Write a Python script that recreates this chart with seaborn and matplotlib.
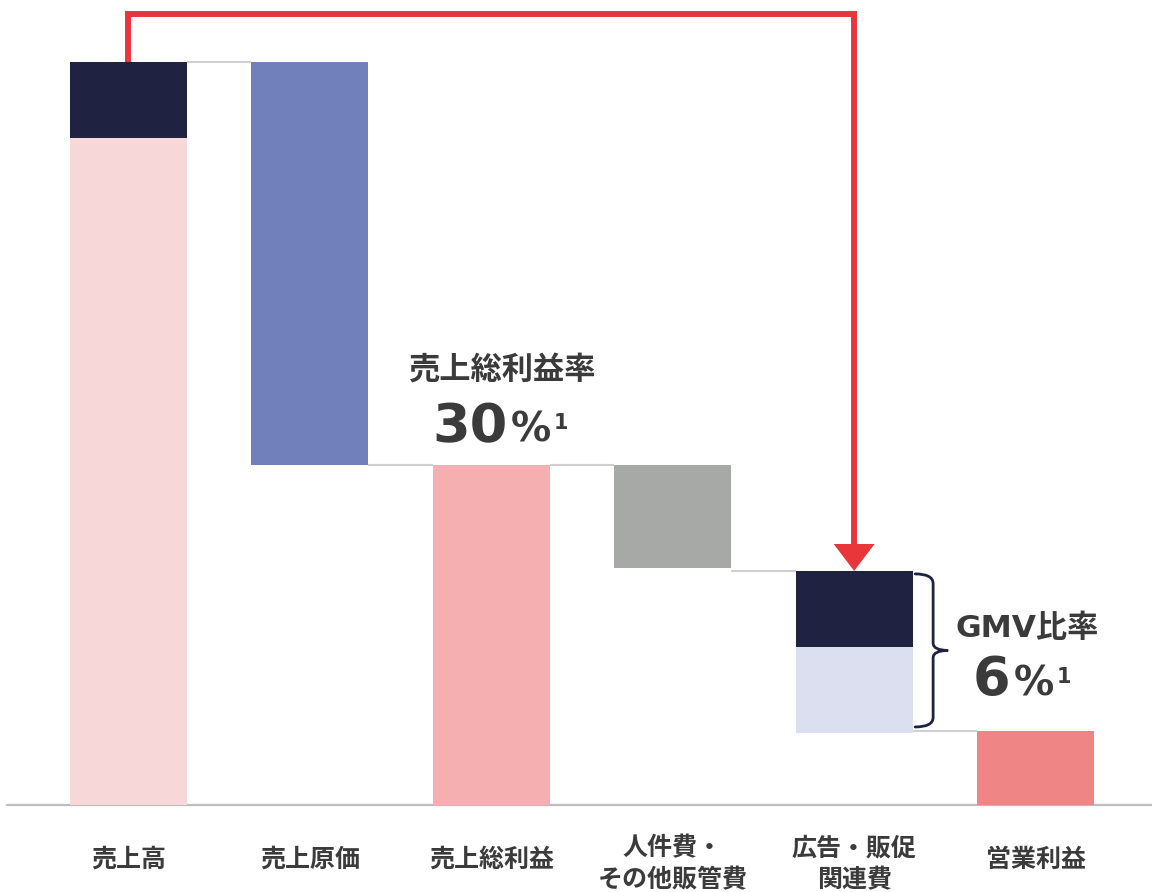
import matplotlib
matplotlib.use("Agg")
import matplotlib.pyplot as plt
import seaborn as sns
import pandas as pd
from matplotlib.path import Path
from matplotlib.patches import FancyArrowPatch, PathPatch

# ---------------- data ----------------
categories = ["売上高", "売上原価", "売上総利益", "人件費・\nその他販管費", "広告・販促\n関連費", "営業利益"]

seg_category = ["売上高", "売上高", "売上原価", "売上総利益", "人件費・\nその他販管費",
                "広告・販促\n関連費", "広告・販促\n関連費", "営業利益"]
seg_bottom = [0.0, 89.8, 45.8, 0.0, 31.9, 21.3, 9.7, 0.0]
seg_top = [89.8, 100.0, 100.0, 45.8, 45.8, 31.5, 21.3, 10.0]
seg_color = ["#F8D7D8", "#1F2341", "#717FBB", "#F5AFB0", "#A7A9A6",
             "#1F2341", "#DCDFF0", "#F08585"]

gross_margin_label = "売上総利益率"
gross_margin_value = "30"
gmv_label = "GMV比率"
gmv_value = "6"
footnote_mark = "1"

# ---------------- style ----------------
sns.set_theme(style="white")
plt.rcParams["font.family"] = ["Noto Sans CJK JP", "DejaVu Sans"]
TEXT = "#3B3B3B"
NUM_FONT = ["DejaVu Sans", "Noto Sans CJK JP"]

fig = plt.figure(figsize=(11.52, 8.92), dpi=100)
ax = fig.add_axes([0, 0, 1, 1])

df = pd.DataFrame({"cat": seg_category, "bottom": seg_bottom, "top": seg_top, "color": seg_color})
df["height"] = df["top"] - df["bottom"]

BAR_W = 0.645
for _, r in df.iterrows():
    sns.barplot(x=[r["cat"]], y=[r["height"]], order=categories, bottom=r["bottom"],
                color=r["color"], saturation=1, width=BAR_W, errorbar=None,
                linewidth=0, ax=ax, zorder=2)

ax.set_xlim(-0.708, 5.642)
ax.set_ylim(-11.71, 108.34)
ax.set_xticks([])
ax.set_yticks([])
ax.set_xlabel("")
ax.set_ylabel("")
for s in ax.spines.values():
    s.set_visible(False)

# baseline
ax.axhline(0, xmin=7 / 1152, xmax=1, color="#BDBDBD", lw=1.6, zorder=1)

# connectors
cat_top = df.groupby("cat", sort=False)["top"].max().reindex(categories)
cat_bottom = df.groupby("cat", sort=False)["bottom"].min().reindex(categories)
for i in range(len(categories) - 1):
    lvl = cat_top.iloc[i + 1]
    ax.plot([i + BAR_W / 2, i + 1 - BAR_W / 2], [lvl, lvl], color="#D0D0D0", lw=1.5,
            zorder=1, solid_capstyle="butt")

# category labels
for i, lab in enumerate(categories):
    lines = lab.split("\n")
    if len(lines) == 1:
        ys = [-8.35]
    else:
        ys = [-6.8, -11.1]
    for ln, yy in zip(lines, ys):
        ax.text(i, yy, ln, ha="center", va="baseline", fontsize=18, fontweight="bold",
                color=TEXT, clip_on=False)

# red arrow from sales to ad costs
i_src, i_dst = 0, 4
arrow_y = 106.5
verts = [(i_src, cat_top.iloc[i_src]), (i_src, arrow_y), (i_dst, arrow_y), (i_dst, cat_top.iloc[i_dst])]
codes = [Path.MOVETO, Path.LINETO, Path.LINETO, Path.LINETO]
arr = FancyArrowPatch(path=Path(verts, codes),
                      arrowstyle="-|>,head_length=13.7,head_width=10.4",
                      mutation_scale=1, color="#E8363A", lw=4.3, joinstyle="miter",
                      capstyle="butt", zorder=5)
ax.add_patch(arr)

# brace next to ad costs
x0 = i_dst + BAR_W / 2 + 0.014
xm = x0 + 0.099
xt = x0 + 0.182
ytop = cat_top.iloc[i_dst] - 0.4
ybot = cat_bottom.iloc[i_dst] + 0.8
ymid = (ytop + ybot) / 2
ry, ry2 = 1.3, 1.0
bverts = [(x0, ytop), (xm, ytop), (xm, ytop - ry),
          (xm, ymid + ry2), (xm, ymid), (xt, ymid),
          (xm, ymid), (xm, ymid - ry2),
          (xm, ybot + ry), (xm, ybot), (x0, ybot)]
bcodes = [Path.MOVETO, Path.CURVE3, Path.CURVE3,
          Path.LINETO, Path.CURVE3, Path.CURVE3,
          Path.CURVE3, Path.CURVE3,
          Path.LINETO, Path.CURVE3, Path.CURVE3]
ax.add_patch(PathPatch(Path(bverts, bcodes), fill=False, edgecolor="#1F2341", lw=2.0,
                       capstyle="round", zorder=4))


def percent_block(x_right, y_base, value):
    t = ax.text(x_right, y_base, value, ha="right", va="baseline", fontsize=39,
                fontweight="bold", color=TEXT, family=NUM_FONT)
    p = ax.annotate("%", xy=(x_right, y_base), xytext=(2.0, 0), textcoords="offset points",
                    ha="left", va="baseline", fontsize=29, fontweight="bold", color=TEXT,
                    family=NUM_FONT)
    ax.annotate(footnote_mark, xy=(1.0, y_base), xycoords=(p, "data"), xytext=(2.0, 9.0),
                textcoords="offset points", ha="left", va="baseline", fontsize=15,
                fontweight="bold", color=TEXT, family=NUM_FONT)
    return t


# gross margin annotation
ax.text(2.059, 57.2, gross_margin_label, ha="center", va="baseline", fontsize=22.5,
        fontweight="bold", color=TEXT)
percent_block(2.092, 48.86, gross_margin_value)

# GMV ratio annotation
ax.text(4.953, 22.6, gmv_label, ha="center", va="baseline", fontsize=22.5,
        fontweight="bold", color=TEXT, family=NUM_FONT)
percent_block(4.862, 14.8, gmv_value)

fig.savefig("out.png", dpi=100)
